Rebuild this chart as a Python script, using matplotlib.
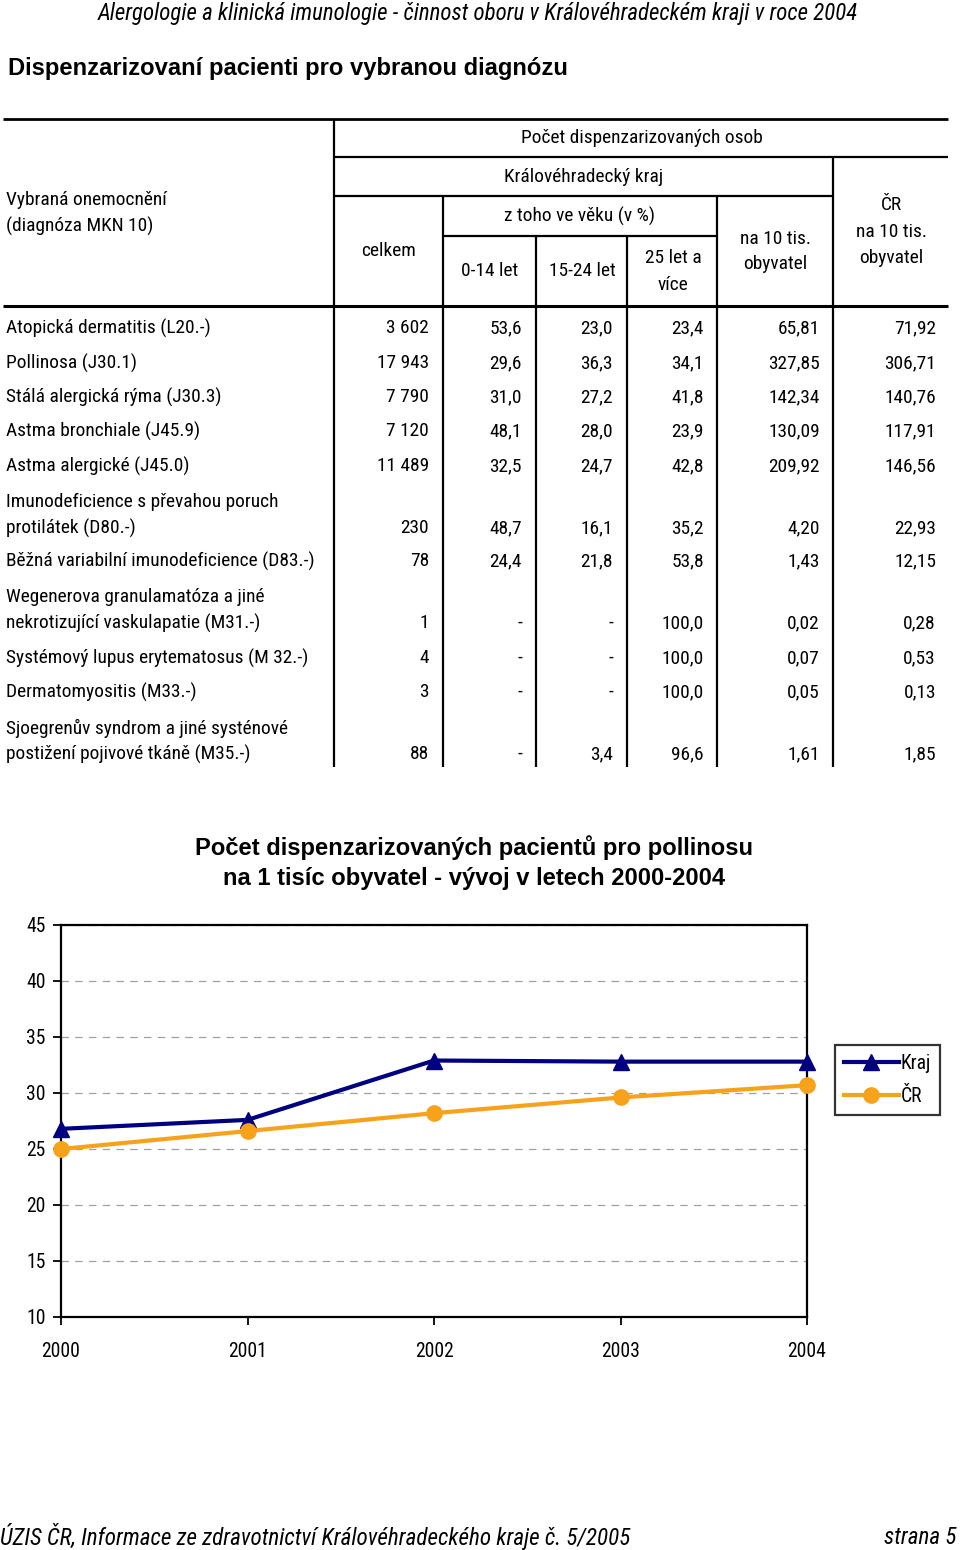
import matplotlib
matplotlib.use("Agg")
import matplotlib.pyplot as plt
from matplotlib import font_manager

# page was set in Arial Narrow (bold titles in Arial); use a narrow face if
# one is installed, and fit font sizes to the original text widths
names = {f.name for f in font_manager.fontManager.ttflist}
base = "Liberation Sans"
for cand in ["Liberation Sans Narrow", "Arial Narrow", "Roboto Condensed", "Open Sans Condensed"]:
    if cand in names:
        base = cand
        break
plt.rcParams["font.family"] = [base, "DejaVu Sans"]
wide = ["Liberation Sans", "DejaVu Sans"]

# ---- table data ----
diagnozy = [
    "Atopická dermatitis (L20.-)",
    "Pollinosa (J30.1)",
    "Stálá alergická rýma (J30.3)",
    "Astma bronchiale (J45.9)",
    "Astma alergické (J45.0)",
    "Imunodeficience s převahou poruch\nprotilátek (D80.-)",
    "Běžná variabilní imunodeficience (D83.-)",
    "Wegenerova granulamatóza a jiné\nnekrotizující vaskulapatie (M31.-)",
    "Systémový lupus erytematosus (M 32.-)",
    "Dermatomyositis (M33.-)",
    "Sjoegrenův syndrom a jiné systénové\npostižení pojivové tkáně (M35.-)",
]
celkem = ["3 602", "17 943", "7 790", "7 120", "11 489", "230", "78", "1", "4", "3", "88"]
vek_0_14 = ["53,6", "29,6", "31,0", "48,1", "32,5", "48,7", "24,4", "-", "-", "-", "-"]
vek_15_24 = ["23,0", "36,3", "27,2", "28,0", "24,7", "16,1", "21,8", "-", "-", "-", "3,4"]
vek_25 = ["23,4", "34,1", "41,8", "23,9", "42,8", "35,2", "53,8", "100,0", "100,0", "100,0", "96,6"]
kraj_10tis = ["65,81", "327,85", "142,34", "130,09", "209,92", "4,20", "1,43", "0,02", "0,07", "0,05", "1,61"]
cr_10tis = ["71,92", "306,71", "140,76", "117,91", "146,56", "22,93", "12,15", "0,28", "0,53", "0,13", "1,85"]

# ---- chart data ----
roky = [2000, 2001, 2002, 2003, 2004]
kraj = [26.8, 27.6, 32.9, 32.8, 32.8]
cr = [25.0, 26.6, 28.2, 29.6, 30.7]

W, H = 960, 1550
fig = plt.figure(figsize=(W / 100, H / 100), dpi=100)
fig.patch.set_facecolor("white")
renderer = fig.canvas.get_renderer()


def fit(text, width_px, **kw):
    """font size at which text is width_px wide"""
    t = fig.text(0, 0, text, fontsize=20, **kw)
    w = t.get_window_extent(renderer).width
    t.remove()
    return 20 * width_px / w


fs = fit("Běžná variabilní imunodeficience (D83.-)", 309)
fs_head = fit("Alergologie a klinická imunologie - činnost oboru v Královéhradeckém kraji v roce 2004",
              760, style="italic")
fs_title = fit("Dispenzarizovaní pacienti pro vybranou diagnózu", 560, fontweight="bold", family=wide)
fs_ctitle = fit("Počet dispenzarizovaných pacientů pro pollinosu", 559, fontweight="bold", family=wide)
fs_foot = fit("ÚZIS ČR, Informace ze zdravotnictví Královéhradeckého kraje č. 5/2005", 631,
              style="italic")
fs_tick = fit("2000", 39)

# page overlay in pixel coordinates
page = fig.add_axes([0, 0, 1, 1])
page.set_xlim(0, W)
page.set_ylim(H, 0)
page.axis("off")

page.text(478, 2, "Alergologie a klinická imunologie - činnost oboru v Královéhradeckém kraji v roce 2004",
          ha="center", va="top", fontsize=fs_head, style="italic")
page.text(8, 69, "Dispenzarizovaní pacienti pro vybranou diagnózu",
          ha="left", va="center", fontsize=fs_title, fontweight="bold", family=wide)


# table rules
def hline(y, x0, x1, lw=1.6):
    page.plot([x0, x1], [y, y], color="black", lw=lw, solid_capstyle="butt")


def vline(x, y0, y1, lw=1.6):
    page.plot([x, x], [y0, y1], color="black", lw=lw, solid_capstyle="butt")


hline(119, 3, 948, 2.0)
hline(157, 334, 948)
hline(196, 334, 833)
hline(236, 443, 717)
hline(306, 3, 948, 2.2)
vline(334, 119, 767)
vline(443, 196, 767)
vline(536, 236, 767)
vline(627, 236, 767)
vline(717, 196, 767)
vline(833, 157, 767)


def cell(x, ys, lines, ha="center"):
    for y, ln in zip(ys, lines):
        page.text(x, y, ln, ha=ha, va="center", fontsize=fs)


# header texts
cell(6, [200, 226], ["Vybraná onemocnění", "(diagnóza MKN 10)"], ha="left")
cell(642, [138], ["Počet dispenzarizovaných osob"])
cell(584, [177], ["Královéhradecký kraj"])
cell(580, [216], ["z toho ve věku (v %)"])
cell(389, [251], ["celkem"])
cell(490, [271], ["0-14 let"])
cell(582, [271], ["15-24 let"])
cell(673, [258, 285], ["25 let a", "více"])
cell(775, [239, 264], ["na 10 tis.", "obyvatel"])
cell(891, [205, 232, 258], ["ČR", "na 10 tis.", "obyvatel"])

# body rows (y of the last text line)
row_y = [328, 363, 397, 431, 466, 528, 561, 623, 658, 692, 754]
col_right = [429, 522, 613, 704, 820, 936]
columns = [celkem, vek_0_14, vek_15_24, vek_25, kraj_10tis, cr_10tis]
for i, name in enumerate(diagnozy):
    y = row_y[i]
    lines = name.split("\n")
    cell(6, [y - 26 * (len(lines) - 1 - k) for k in range(len(lines))], lines, ha="left")
    for xr, col in zip(col_right, columns):
        cell(xr, [y], [col[i]], ha="right")

# ---- chart ----
ax = fig.add_axes([61 / W, 1 - 1317 / H, 746 / W, 392 / H])
ax.plot(roky, kraj, color="#000080", lw=3, marker="^", markersize=11, label="Kraj", zorder=3,
        clip_on=False)
ax.plot(roky, cr, color="#F7A21B", lw=3, marker="o", markersize=11, label="ČR", zorder=3,
        clip_on=False)
ax.set_xlim(2000, 2004)
ax.set_ylim(10, 45)
ax.set_xticks(roky)
ax.set_yticks(range(10, 46, 5))
ax.tick_params(axis="both", labelsize=fs_tick, direction="out", length=6, width=1.3, pad=5)
ax.tick_params(axis="x", pad=12)
ax.yaxis.grid(True, linestyle=(0, (6, 5)), color="#A0A0A0", lw=0.9)
ax.set_axisbelow(True)
for sp in ax.spines.values():
    sp.set_linewidth(1.6)

leg = ax.legend(loc="upper left", bbox_to_anchor=((835 - 61) / 746, 1 - (1045 - 925) / 392),
                frameon=True, fancybox=False, fontsize=fs_tick, handlelength=2.8, handletextpad=0.1,
                borderpad=0.45, labelspacing=0.7, borderaxespad=0)
leg.get_frame().set_edgecolor("black")
leg.get_frame().set_linewidth(1.6)

page.text(474, 848, "Počet dispenzarizovaných pacientů pro pollinosu",
          ha="center", va="center", fontsize=fs_ctitle, fontweight="bold", family=wide)
page.text(474, 878, "na 1 tisíc obyvatel - vývoj v letech 2000-2004",
          ha="center", va="center", fontsize=fs_ctitle, fontweight="bold", family=wide)

# footer
page.text(0, 1537, "ÚZIS ČR, Informace ze zdravotnictví Královéhradeckého kraje č. 5/2005",
          ha="left", va="center", fontsize=fs_foot, style="italic")
page.text(957, 1537, "strana 5", ha="right", va="center", fontsize=fs_foot, style="italic")

fig.savefig("out.png", dpi=100, facecolor="white")
